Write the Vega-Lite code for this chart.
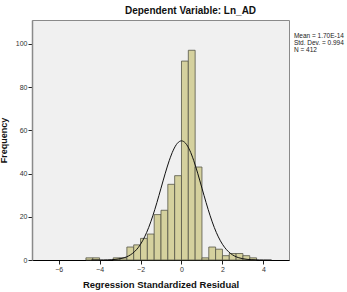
{
  "$schema": "https://vega.github.io/schema/vega-lite/v6.json",
  "width": 257,
  "height": 240,
  "autosize": {"type": "none"},
  "padding": {"left": 32, "top": 20, "right": 58, "bottom": 32},
  "background": "white",
  "title": {
    "text": "Dependent Variable: Ln_AD",
    "font": "Liberation Sans",
    "fontSize": 10,
    "fontWeight": "bold",
    "color": "#111",
    "anchor": "middle",
    "dx": 30,
    "offset": 4
  },
  "config": {
    "view": {"fill": "#f0f0f0", "stroke": "#8a8a8a", "strokeWidth": 1},
    "font": "Liberation Sans",
    "axis": {
      "labelFont": "Liberation Sans",
      "labelFontSize": 7,
      "labelColor": "#333",
      "titleFont": "Liberation Sans",
      "titleFontWeight": "bold",
      "titleColor": "#111",
      "grid": false,
      "tickSize": 4,
      "tickColor": "#222",
      "labelPadding": 1
    }
  },
  "datasets": {
    "bins": [
      {"start": -4.6667, "end": -4.3333, "count": 1},
      {"start": -4.3333, "end": -4.0, "count": 1},
      {"start": -3.3333, "end": -3.0, "count": 1},
      {"start": -3.0, "end": -2.6667, "count": 1},
      {"start": -2.6667, "end": -2.3333, "count": 6},
      {"start": -2.3333, "end": -2.0, "count": 7},
      {"start": -2.0, "end": -1.6667, "count": 10},
      {"start": -1.6667, "end": -1.3333, "count": 12},
      {"start": -1.3333, "end": -1.0, "count": 21},
      {"start": -1.0, "end": -0.6667, "count": 23},
      {"start": -0.6667, "end": -0.3333, "count": 35},
      {"start": -0.3333, "end": 0.0, "count": 39},
      {"start": 0.0, "end": 0.3333, "count": 92},
      {"start": 0.3333, "end": 0.6667, "count": 97},
      {"start": 0.6667, "end": 1.0, "count": 43},
      {"start": 1.0, "end": 1.3333, "count": 1},
      {"start": 1.3333, "end": 1.6667, "count": 6},
      {"start": 1.6667, "end": 2.0, "count": 5},
      {"start": 2.0, "end": 2.3333, "count": 2},
      {"start": 2.3333, "end": 2.6667, "count": 3},
      {"start": 2.6667, "end": 3.0, "count": 3},
      {"start": 3.0, "end": 3.3333, "count": 2},
      {"start": 3.3333, "end": 3.6667, "count": 1}
    ],
    "curve": [
      {"z": -4.4, "f": 0.0},
      {"z": -4.0, "f": 0.02},
      {"z": -3.8, "f": 0.04},
      {"z": -3.6, "f": 0.08},
      {"z": -3.4, "f": 0.16},
      {"z": -3.2, "f": 0.31},
      {"z": -3.0, "f": 0.58},
      {"z": -2.8, "f": 1.04},
      {"z": -2.6, "f": 1.8},
      {"z": -2.4, "f": 2.99},
      {"z": -2.2, "f": 4.76},
      {"z": -2.0, "f": 7.28},
      {"z": -1.8, "f": 10.69},
      {"z": -1.6, "f": 15.08},
      {"z": -1.4, "f": 20.44},
      {"z": -1.2, "f": 26.59},
      {"z": -1.0, "f": 33.22},
      {"z": -0.8, "f": 39.86},
      {"z": -0.6, "f": 45.92},
      {"z": -0.4, "f": 50.81},
      {"z": -0.2, "f": 54.0},
      {"z": 0.0, "f": 55.1},
      {"z": 0.2, "f": 54.0},
      {"z": 0.4, "f": 50.81},
      {"z": 0.6, "f": 45.92},
      {"z": 0.8, "f": 39.86},
      {"z": 1.0, "f": 33.22},
      {"z": 1.2, "f": 26.59},
      {"z": 1.4, "f": 20.44},
      {"z": 1.6, "f": 15.08},
      {"z": 1.8, "f": 10.69},
      {"z": 2.0, "f": 7.28},
      {"z": 2.2, "f": 4.76},
      {"z": 2.4, "f": 2.99},
      {"z": 2.6, "f": 1.8},
      {"z": 2.8, "f": 1.04},
      {"z": 3.0, "f": 0.58},
      {"z": 3.2, "f": 0.31},
      {"z": 3.4, "f": 0.16},
      {"z": 3.6, "f": 0.08},
      {"z": 3.8, "f": 0.04},
      {"z": 4.0, "f": 0.02},
      {"z": 4.4, "f": 0.0}
    ],
    "stats": [
      {"summary": "Mean = 1.70E-14\nStd. Dev. = 0.994\nN = 412"}
    ]
  },
  "layer": [
    {
      "data": {"name": "bins"},
      "mark": {"type": "bar", "fill": "#d5d19e", "stroke": "#555548", "strokeWidth": 0.8},
      "encoding": {
        "x": {
          "field": "start",
          "type": "quantitative",
          "scale": {"domain": [-7.3, 5.25], "nice": false, "zero": false},
          "axis": {
            "values": [-6, -4, -2, 0, 2, 4],
            "title": "Regression Standardized Residual",
            "titleFontSize": 9.5,
            "titlePadding": 7,
            "domainColor": "#000",
            "domainWidth": 1.2
          }
        },
        "x2": {"field": "end"},
        "y": {
          "field": "count",
          "type": "quantitative",
          "scale": {"domain": [0, 111], "nice": false},
          "axis": {
            "values": [0, 20, 40, 60, 80, 100],
            "title": "Frequency",
            "titleFontSize": 9,
            "titlePadding": 7,
            "domainColor": "#8a8a8a",
            "domainWidth": 1.5
          }
        },
        "y2": {"datum": 0}
      }
    },
    {
      "data": {"name": "curve"},
      "mark": {"type": "line", "color": "#111", "strokeWidth": 1, "interpolate": "monotone"},
      "encoding": {
        "x": {"field": "z", "type": "quantitative"},
        "y": {"field": "f", "type": "quantitative"}
      }
    },
    {
      "data": {"name": "stats"},
      "mark": {
        "type": "text",
        "align": "left",
        "baseline": "top",
        "lineBreak": "\n",
        "lineHeight": 6.6,
        "fontSize": 6.5,
        "font": "Liberation Sans",
        "color": "#222"
      },
      "encoding": {
        "x": {"datum": 5.49},
        "y": {"datum": 104.8},
        "text": {"field": "summary"}
      }
    }
  ]
}
